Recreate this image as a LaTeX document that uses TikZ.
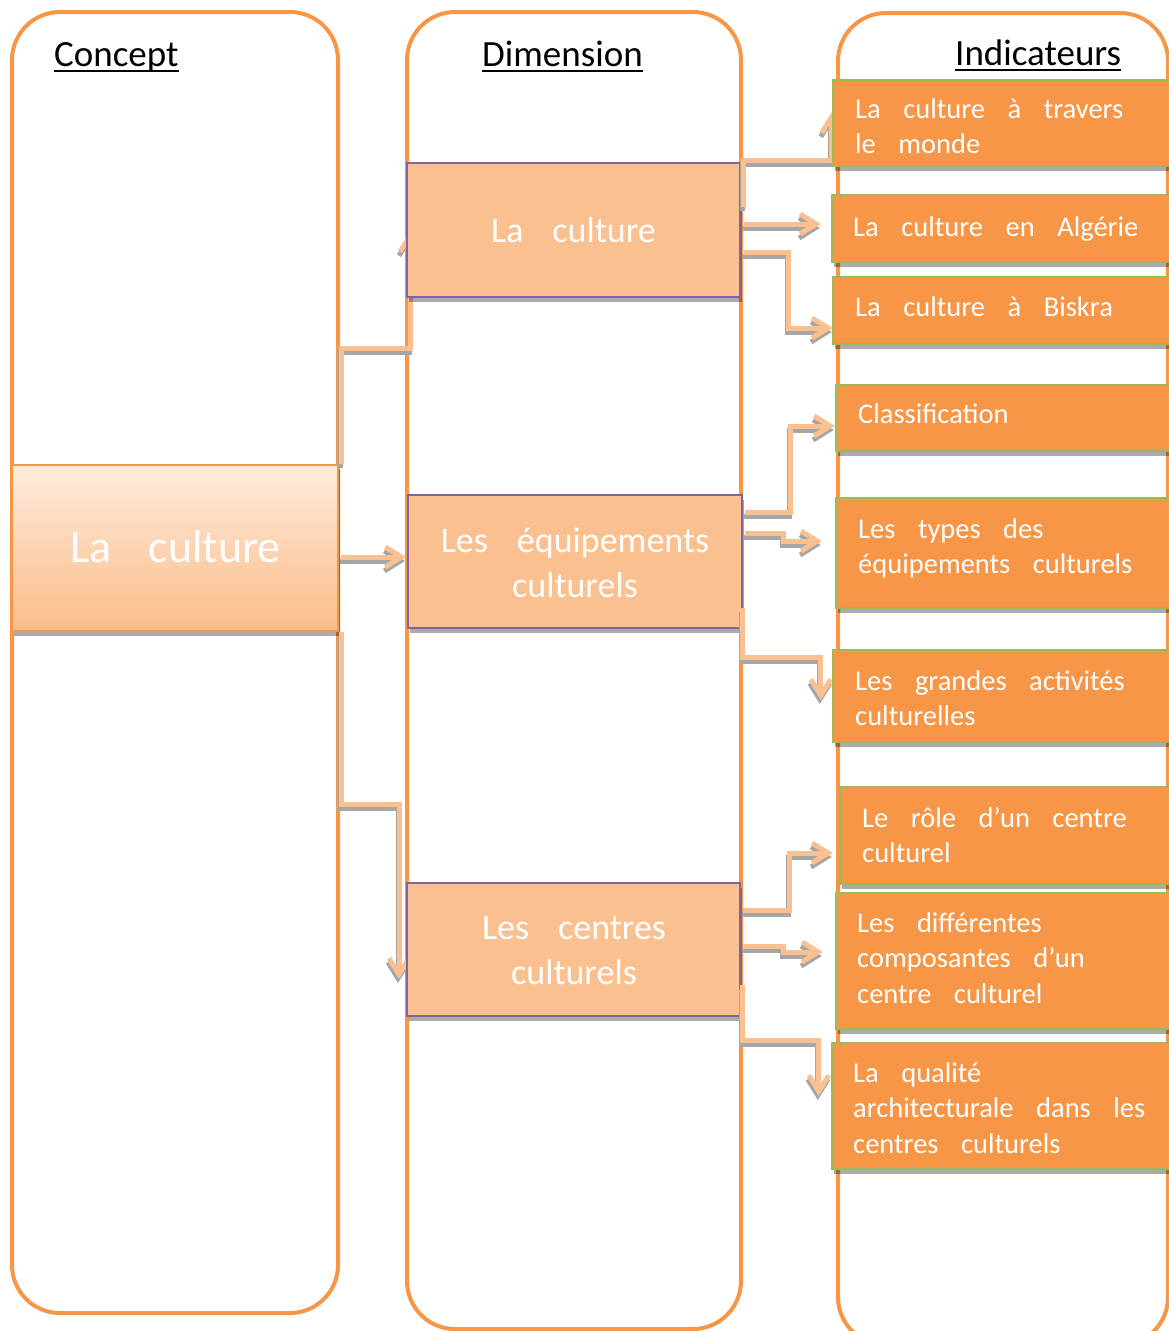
\documentclass[tikz,border=0pt]{standalone}
\usepackage{fontspec}
\setmainfont{Carlito}
\usetikzlibrary{arrows.meta,shadows}

\definecolor{orng}{HTML}{F79646}
\definecolor{lorng}{HTML}{FAC090}
\definecolor{purp}{HTML}{8064A2}
\definecolor{grn}{HTML}{9BBB59}
\definecolor{shd}{HTML}{A6A6A6}
\definecolor{ctop}{HTML}{FEEBDD}
\definecolor{cbot}{HTML}{FBBD88}

% fonts for the different levels of text
\newcommand\hdrfont{\fontsize{37}{44}\selectfont}
\newcommand\dimfont{\fontsize{36}{45}\selectfont\spaceskip=29pt\relax}
\newcommand\indfont{\fontsize{28.5}{35.5}\selectfont\spaceskip=22.5pt\relax}
\newcommand\cptfont{\fontsize{46}{55}\selectfont\spaceskip=37pt\relax}
% underlined column title
\newcommand\ulhdr[1]{\setbox0\hbox{#1}\rlap{\vrule height -4pt depth 6pt width \wd0}\box0}
% connector with its grey shadow
\newcommand\link[1]{\draw[linkshadow] #1; \draw[linkmain] #1;}

\begin{document}
\begin{tikzpicture}[x=1pt,y=-1pt,
  frame/.style={draw=orng,line width=4pt,rounded corners=48pt},
  boxshadow/.style={drop shadow={shadow xshift=2pt,shadow yshift=-5pt,fill=black,opacity=.33}},
  conceptbox/.style={rectangle,inner sep=0pt,draw=orng,line width=2pt,top color=ctop,bottom color=cbot,boxshadow},
  dimbox/.style={rectangle,inner sep=0pt,draw=purp,line width=1.6pt,fill=lorng,boxshadow},
  indbox/.style={rectangle,inner sep=0pt,draw=grn,line width=2pt,fill=orng,boxshadow},
  linkmain/.style={draw=lorng,line width=5pt,line join=miter,-{Straight Barb[length=16pt,width=20pt]}},
  linkshadow/.style={linkmain,draw=shd,transform canvas={shift={(-1pt,-4pt)}}},
  hdr/.style={anchor=base west,inner sep=0pt,text=black},
  indtext/.style={anchor=base west,inner sep=0pt,text=white,text width=320pt,align=left},
  dimtext/.style={anchor=base,inner sep=0pt,text=white,text width=330pt,align=center},
]
\useasboundingbox (0,0) rectangle (1169,1331);
\clip (0,0) rectangle (1169,1331);

% the three columns
\draw[frame] (12,12) rectangle (338,1313);
\draw[frame] (407,12) rectangle (741,1329);
\draw[frame] (838,13) rectangle (1168,1345);

% column titles
\node[hdr] (hc) at (54,66) {\hdrfont\ulhdr{Concept}};
\node[hdr] (hd) at (482,66) {\hdrfont\ulhdr{Dimension}};
\node[hdr] (hi) at (955,65) {\hdrfont\ulhdr{Indicateurs}};

% concept
\node[conceptbox,minimum width=326pt,minimum height=166pt] (con) at (175,548) {};

% concept -> dimensions
\link{([xshift=2pt]con.north east) -- ++(0,-116) -- ++(69,0) -- ++(0,-117)}
\link{([xshift=2pt,yshift=-9pt]con.east) -- ++(65,0)}
\link{([xshift=2pt]con.south east) -- ++(0,172) -- ++(58,0) -- ++(0,175)}

% dimensions
\node[dimbox,minimum width=333pt,minimum height=134pt] (d1) at (573.5,230) {};
\node[dimbox,minimum width=334pt,minimum height=133pt] (d2) at (575,561.5) {};
\node[dimbox,minimum width=333pt,minimum height=133pt] (d3) at (573.5,949.5) {};

% dimensions -> indicators
\link{([xshift=3pt,yshift=23pt]d1.east) -- ++(0,-47) -- ++(88,0) -- ++(0,-48)}
\link{([xshift=3pt,yshift=6pt]d1.east) -- ++(77,0)}
\link{([xshift=3pt,yshift=-22pt]d1.east) -- ++(45,0) -- ++(0,76) -- ++(44,0)}

\link{([xshift=2pt,yshift=49.5pt]d2.east) -- ++(46,0) -- ++(0,-86) -- ++(44,0)}
\link{([xshift=2pt,yshift=28.5pt]d2.east) -- ++(39,0) -- ++(0,8) -- ++(38,0)}
\link{([yshift=-46.5pt]d2.east) -- ++(0,49) -- ++(78,0) -- ++(0,43)}

\link{([xshift=2pt,yshift=39.5pt]d3.east) -- ++(47,0) -- ++(0,-57) -- ++(43,0)}
\link{([xshift=2pt,yshift=3.5pt]d3.east) -- ++(41,0) -- ++(0,6) -- ++(39,0)}
\link{([xshift=2pt,yshift=-35.5pt]d3.east) -- ++(0,55) -- ++(76,0) -- ++(0,56)}

% indicators
\node[indbox,minimum width=347pt,minimum height=86pt]  (i1) at (1006.5,123) {};
\node[indbox,minimum width=348pt,minimum height=67pt]  (i2) at (1006,228.5) {};
\node[indbox,minimum width=347pt,minimum height=67pt]  (i3) at (1006.5,310.5) {};
\node[indbox,minimum width=344pt,minimum height=66pt]  (i4) at (1008,418) {};
\node[indbox,minimum width=344pt,minimum height=110pt] (i5) at (1008,553) {};
\node[indbox,minimum width=347pt,minimum height=92pt]  (i6) at (1006.5,696) {};
\node[indbox,minimum width=340pt,minimum height=97pt]  (i7) at (1010,835.5) {};
\node[indbox,minimum width=344pt,minimum height=136pt] (i8) at (1008,961) {};
\node[indbox,minimum width=348pt,minimum height=126pt] (i9) at (1006,1106) {};

% texts
\node[anchor=base,inner sep=0pt,text=white,text width=320pt,align=center] (tc) at (175.5,562) {\cptfont La culture\par};

\node[dimtext] (td1) at (573.5,242) {\dimfont La culture\par};
\node[dimtext] (td2) at (575,552) {\dimfont Les équipements\par culturels\par};
\node[dimtext] (td3) at (574,939) {\dimfont Les centres\par culturels\par};

\node[indtext] (t1) at (855,118) {\indfont La culture à travers\par le monde\par};
\node[indtext] (t2) at (853,236) {\indfont La culture en Algérie\par};
\node[indtext] (t3) at (855,316) {\indfont La culture à Biskra\par};
\node[indtext] (t4) at (858,423) {\indfont Classification\par};
\node[indtext] (t5) at (858,538) {\indfont Les types des\par équipements culturels\par};
\node[indtext] (t6) at (855,690) {\indfont Les grandes activités\par culturelles\par};
\node[indtext] (t7) at (862,827) {\indfont Le rôle d’un centre\par culturel\par};
\node[indtext] (t8) at (857,932) {\indfont Les différentes\par composantes d’un\par centre culturel\par};
\node[indtext] (t9) at (853,1082) {\indfont La qualité\par architecturale dans les\par centres culturels\par};
\end{tikzpicture}
\end{document}
